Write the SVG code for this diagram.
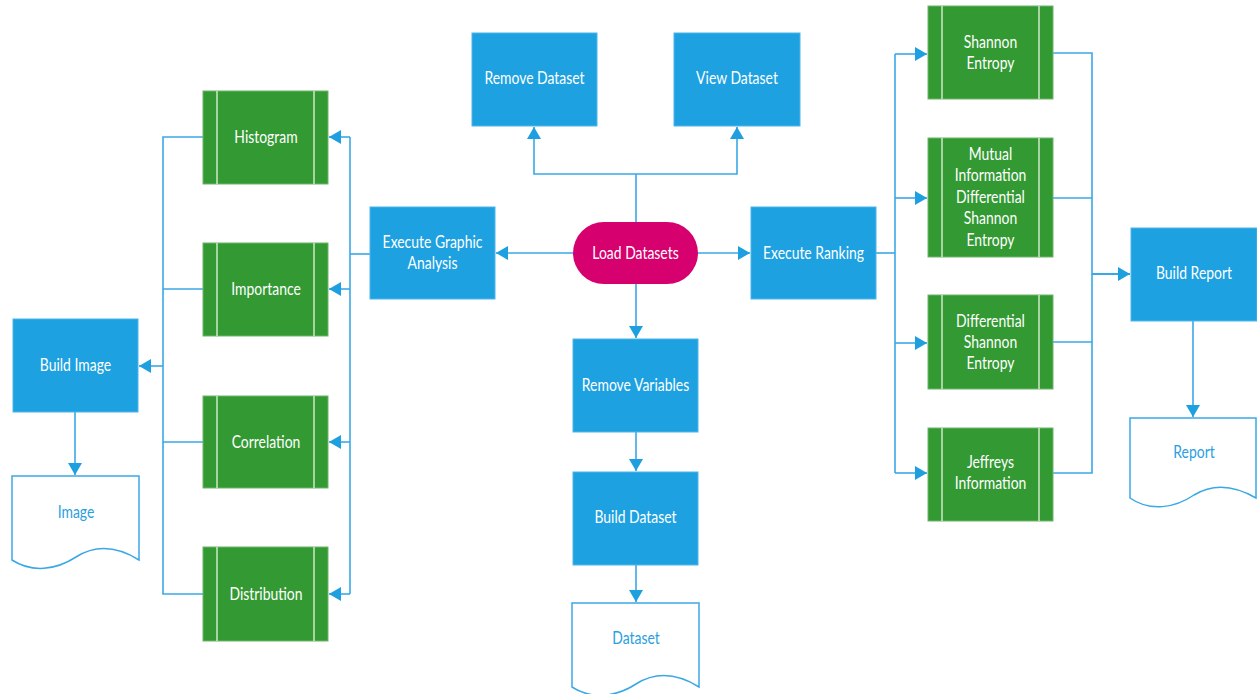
<svg xmlns="http://www.w3.org/2000/svg" width="1257" height="694" viewBox="0 0 1257 694">
<style>
.b{fill:#1da1e1;stroke:#4fb6ea;stroke-width:1}
.g{fill:#339933;stroke:#6fb56a;stroke-width:1}
.gl{stroke:#cfe8c8;stroke-width:1.5}
.d{fill:#fff;stroke:#3aa8e6;stroke-width:1.5}
.t{font-family:Lato,"Open Sans",sans-serif;font-size:17px;fill:#fff;text-anchor:middle}
.dt{fill:#2a9fe0}
.c{fill:none;stroke:#3aa8e6;stroke-width:1.6}
</style>
<defs>
<marker id="a" markerUnits="userSpaceOnUse" markerWidth="13" markerHeight="14" refX="12" refY="7" orient="auto">
<path d="M0,0 L12,7 L0,14 z" fill="#1e9fe0"/>
</marker>
</defs>
<rect width="1257" height="694" fill="#fff"/>

<g id="connectors">
<path class="c" d="M636,222 V174"/>
<path class="c" d="M636,174 H534 V127" marker-end="url(#a)"/>
<path class="c" d="M636,174 H737 V127" marker-end="url(#a)"/>
<path class="c" d="M573,253 H496" marker-end="url(#a)"/>
<path class="c" d="M698,253 H750" marker-end="url(#a)"/>
<path class="c" d="M636,284 V338" marker-end="url(#a)"/>
<path class="c" d="M636,432 V471" marker-end="url(#a)"/>
<path class="c" d="M636,565 V602" marker-end="url(#a)"/>
<path class="c" d="M370,254 H350"/>
<path class="c" d="M350,137 V594"/>
<path class="c" d="M350,137 H329" marker-end="url(#a)"/>
<path class="c" d="M350,289 H329" marker-end="url(#a)"/>
<path class="c" d="M350,442 H329" marker-end="url(#a)"/>
<path class="c" d="M350,594 H329" marker-end="url(#a)"/>
<path class="c" d="M203,137 H163 V594 H203"/>
<path class="c" d="M203,289 H163"/>
<path class="c" d="M203,442 H163"/>
<path class="c" d="M163,366 H139" marker-end="url(#a)"/>
<path class="c" d="M75,412 V475" marker-end="url(#a)"/>
<path class="c" d="M876,253 H895"/>
<path class="c" d="M895,54 V473"/>
<path class="c" d="M895,54 H927" marker-end="url(#a)"/>
<path class="c" d="M895,198 H927" marker-end="url(#a)"/>
<path class="c" d="M895,343 H927" marker-end="url(#a)"/>
<path class="c" d="M895,473 H927" marker-end="url(#a)"/>
<path class="c" d="M1053,53 H1092 V473 H1053"/>
<path class="c" d="M1053,198 H1092"/>
<path class="c" d="M1053,342 H1092"/>
<path class="c" d="M1092,274 H1130" marker-end="url(#a)" style="stroke-width:2"/>
<path class="c" d="M1193,321 V417" marker-end="url(#a)"/>
</g>

<g id="load-datasets">
<rect x="573" y="222" width="125" height="62" rx="31" fill="#d6006f"/>
<text class="t" transform="translate(635.5 259) scale(0.82 1)">Load Datasets</text>
</g>
<g id="remove-dataset">
<rect class="b" x="472" y="33" width="125" height="93"/>
<text class="t" transform="translate(534.5 84) scale(0.82 1)">Remove Dataset</text>
</g>
<g id="view-dataset">
<rect class="b" x="674" y="33" width="126" height="93"/>
<text class="t" transform="translate(737 84) scale(0.82 1)">View Dataset</text>
</g>
<g id="execute-graphic-analysis">
<rect class="b" x="370" y="207" width="125" height="92"/>
<text class="t" transform="translate(432.5 248) scale(0.82 1)"><tspan x="0">Execute Graphic</tspan><tspan x="0" dy="21">Analysis</tspan></text>
</g>
<g id="execute-ranking">
<rect class="b" x="751" y="207" width="125" height="92"/>
<text class="t" transform="translate(813.5 259) scale(0.82 1)">Execute Ranking</text>
</g>
<g id="remove-variables">
<rect class="b" x="573" y="339" width="125" height="93"/>
<text class="t" transform="translate(635.5 391) scale(0.82 1)">Remove Variables</text>
</g>
<g id="build-dataset">
<rect class="b" x="573" y="472" width="125" height="93"/>
<text class="t" transform="translate(635.5 523) scale(0.82 1)">Build Dataset</text>
</g>
<g id="dataset">
<path class="d" d="M572,603 H699 V687 C675,672 655,672 636,684 C616,697 592,700 572,687 Z"/>
<text class="t dt" transform="translate(636 644) scale(0.82 1)">Dataset</text>
</g>

<g id="histogram">
<rect class="g" x="203" y="91" width="125" height="93"/>
<path class="gl" d="M217,91 V184 M314,91 V184"/>
<text class="t" transform="translate(266 143) scale(0.82 1)">Histogram</text>
</g>
<g id="importance">
<rect class="g" x="203" y="243" width="125" height="93"/>
<path class="gl" d="M217,243 V336 M314,243 V336"/>
<text class="t" transform="translate(266 295) scale(0.82 1)">Importance</text>
</g>
<g id="correlation">
<rect class="g" x="203" y="396" width="125" height="92"/>
<path class="gl" d="M217,396 V488 M314,396 V488"/>
<text class="t" transform="translate(266 447.5) scale(0.82 1)">Correlation</text>
</g>
<g id="distribution">
<rect class="g" x="203" y="547" width="125" height="94"/>
<path class="gl" d="M217,547 V641 M314,547 V641"/>
<text class="t" transform="translate(266 599.5) scale(0.82 1)">Distribution</text>
</g>
<g id="build-image">
<rect class="b" x="13" y="319" width="125" height="93"/>
<text class="t" transform="translate(75.5 371) scale(0.82 1)">Build Image</text>
</g>
<g id="image">
<path class="d" d="M12,476 H139 V560 C115,545 95,545 76,557 C56,570 32,573 12,560 Z"/>
<text class="t dt" transform="translate(76 518) scale(0.82 1)">Image</text>
</g>

<g id="shannon-entropy">
<rect class="g" x="928" y="6" width="125" height="93"/>
<path class="gl" d="M942,6 V99 M1039,6 V99"/>
<text class="t" transform="translate(990.5 48) scale(0.82 1)"><tspan x="0">Shannon</tspan><tspan x="0" dy="21">Entropy</tspan></text>
</g>
<g id="mutual-information">
<rect class="g" x="928" y="138" width="125" height="119"/>
<path class="gl" d="M942,138 V257 M1039,138 V257"/>
<text class="t" transform="translate(990.5 160) scale(0.82 1)"><tspan x="0">Mutual</tspan><tspan x="0" dy="21.5">Information</tspan><tspan x="0" dy="21.5">Differential</tspan><tspan x="0" dy="21.5">Shannon</tspan><tspan x="0" dy="21.5">Entropy</tspan></text>
</g>
<g id="differential-shannon-entropy">
<rect class="g" x="928" y="295" width="125" height="94"/>
<path class="gl" d="M942,295 V389 M1039,295 V389"/>
<text class="t" transform="translate(990.5 327) scale(0.82 1)"><tspan x="0">Differential</tspan><tspan x="0" dy="21">Shannon</tspan><tspan x="0" dy="21">Entropy</tspan></text>
</g>
<g id="jeffreys-information">
<rect class="g" x="928" y="428" width="125" height="93"/>
<path class="gl" d="M942,428 V521 M1039,428 V521"/>
<text class="t" transform="translate(990.5 468) scale(0.82 1)"><tspan x="0">Jeffreys</tspan><tspan x="0" dy="21">Information</tspan></text>
</g>
<g id="build-report">
<rect class="b" x="1131" y="228" width="126" height="93"/>
<text class="t" transform="translate(1194 279) scale(0.82 1)">Build Report</text>
</g>
<g id="report">
<path class="d" d="M1130,418 H1256 V498 C1232,484 1212,484 1194,495 C1175,508 1150,512 1130,498 Z"/>
<text class="t dt" transform="translate(1194 458) scale(0.82 1)">Report</text>
</g>
</svg>
